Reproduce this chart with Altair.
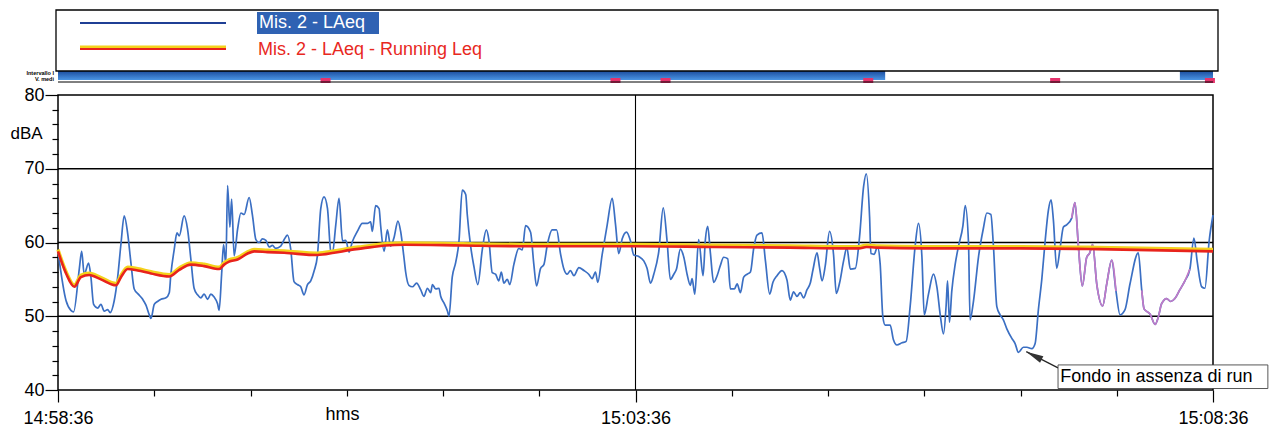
import altair as alt
import pandas as pd

# ---------------- data (seconds from 14:58:36, dBA) ----------------
laeq_points = [
    (0, 58.8), (4.2, 52.1), (6.7, 50.8), (8.1, 50.6), (11.1, 56.5), (12.3, 58.8), (13.6, 55.7), (15.9, 57.2),
    (17.1, 55.3), (18.5, 51.6), (20.6, 51.1), (22.3, 51.6), (24.0, 50.7), (25.8, 50.9), (27.1, 50.5), (29.2, 52.1),
    (31.0, 55.3), (32.7, 59.8), (34.4, 63.6), (36.2, 61.2), (37.9, 57.2), (39.6, 53.7), (41.7, 53.0), (44.0, 52.3),
    (45.7, 51.5), (47.4, 50.2), (48.3, 49.7), (50.0, 51.6), (51.7, 52.0), (53.5, 52.3), (56.1, 52.5), (57.8, 53.2),
    (58.6, 55.6), (60.4, 59.1), (61.8, 61.3), (63.0, 60.9), (65.5, 63.6), (67.3, 61.8), (69.0, 57.8), (70.7, 53.8),
    (72.5, 52.9), (74.2, 52.5), (75.9, 53.0), (77.7, 52.3), (79.4, 53.0), (81.1, 52.6), (82.9, 51.7), (83.7, 50.8),
    (85.0, 55.7), (86.0, 59.7), (87.2, 57.1), (88.1, 67.7), (89.3, 62.1), (90.2, 65.9), (91.5, 58.2), (93.3, 61.8),
    (95.0, 64.0), (96.7, 63.8), (99.3, 66.1), (101.0, 63.7), (102.8, 60.4), (104.5, 60.0), (106.2, 60.5), (108.0, 60.3),
    (109.7, 59.4), (111.4, 59.6), (113.1, 59.2), (115.7, 59.5), (117.5, 60.4), (119.2, 61.0), (120.9, 59.1), (122.6, 54.7),
    (124.4, 54.3), (126.1, 54.0), (127.8, 52.9), (129.6, 54.3), (131.3, 54.8), (133.0, 56.1), (134.8, 58.3), (136.5, 64.6),
    (138.2, 66.2), (140.0, 64.6), (141.7, 58.8), (142.6, 58.6), (144.3, 62.4), (146.0, 66.0), (147.8, 60.2), (149.5, 60.3),
    (151.2, 58.7), (152.9, 60.1), (155.5, 61.5), (158.1, 62.6), (160.7, 62.6), (162.4, 62.8), (163.3, 61.5), (165.0, 65.0),
    (166.8, 64.6), (167.6, 62.3), (169.4, 58.8), (171.1, 61.7), (172.8, 59.5), (174.5, 60.6), (176.6, 62.9), (178.0, 61.5),
    (179.7, 58.0), (180.6, 56.0), (182.3, 54.2), (184.1, 54.0), (186.3, 54.5), (188.4, 53.6), (190.1, 52.7), (191.9, 53.8),
    (193.6, 53.2), (194.5, 54.3), (196.2, 53.7), (197.9, 53.8), (198.8, 52.7), (200.5, 51.8), (202.3, 50.7), (203.1, 50.0),
    (204.8, 55.3), (206.6, 57.3), (208.3, 60.2), (210.0, 67.1), (211.8, 66.5), (212.6, 63.8), (214.3, 59.6), (216.1, 56.7),
    (218.1, 54.3), (220.4, 59.0), (222.5, 61.7), (223.8, 60.4), (225.6, 55.9), (227.3, 55.7), (229.0, 54.8), (230.3, 56.0),
    (231.6, 54.5), (233.4, 55.0), (234.7, 54.3), (236.8, 57.0), (239.4, 59.2), (241.2, 59.0), (242.9, 62.3), (245.5, 61.4),
    (247.2, 57.0), (248.6, 54.1), (250.7, 56.5), (252.4, 57.0), (254.2, 59.7), (256.7, 61.7), (259.0, 61.7), (261.1, 58.4),
    (262.8, 56.4), (264.5, 55.7), (266.2, 56.2), (268.0, 55.5), (270.6, 56.6), (273.2, 56.2), (275.7, 55.7), (277.5, 55.1),
    (279.2, 56.0), (280.4, 54.6), (282.7, 58.4), (285.3, 62.4), (287.9, 66.0), (289.6, 62.5), (291.3, 58.5), (293.1, 60.5),
    (295.3, 61.4), (297.4, 60.2), (299.1, 58.3), (301.7, 58.1), (304.3, 57.5), (306.0, 56.5), (307.8, 54.5), (309.5, 55.7),
    (312.1, 58.8), (314.4, 64.7), (316.4, 60.2), (318.1, 55.0), (319.9, 55.7), (321.3, 56.4), (323.3, 59.1), (325.1, 58.0),
    (326.8, 55.7), (328.5, 54.2), (329.4, 55.1), (330.8, 53.0), (332.8, 60.4), (335.1, 55.5), (336.3, 60.4), (337.5, 62.2),
    (338.9, 58.6), (340.6, 54.6), (342.4, 55.5), (344.1, 56.9), (345.8, 58.0), (347.9, 57.8), (349.3, 53.7), (351.4, 53.7),
    (352.8, 54.4), (354.5, 53.2), (356.2, 55.3), (358.0, 55.7), (359.7, 56.0), (361.4, 59.2), (363.1, 61.0), (365.7, 61.3),
    (367.5, 57.5), (369.7, 53.0), (371.4, 54.6), (373.5, 55.5), (376.1, 56.2), (378.7, 54.9), (380.4, 52.2), (382.1, 53.3),
    (383.9, 52.7), (385.6, 53.2), (387.3, 52.5), (389.1, 53.6), (390.8, 54.5), (392.2, 56.3), (394.3, 58.6), (395.6, 56.6),
    (396.9, 54.8), (398.6, 56.9), (400.8, 61.5), (402.9, 58.3), (404.3, 53.1), (406.0, 54.5), (408.1, 57.5), (409.8, 59.3),
    (411.6, 56.4), (414.2, 56.5), (416.4, 60.8), (418.5, 67.6), (419.9, 69.3), (421.6, 63.5), (422.3, 58.5), (424.0, 58.4),
    (425.7, 59.4), (427.1, 57.1), (428.5, 49.9), (429.7, 48.8), (432.3, 48.8), (434.0, 46.8), (435.8, 46.1), (438.4, 46.4),
    (440.6, 46.6), (442.7, 51.4), (445.3, 59.6), (447.0, 62.6), (448.8, 58.0), (450.0, 50.2), (452.2, 53.0), (454.8, 55.7),
    (456.6, 53.9), (458.3, 50.2), (460.0, 47.6), (461.4, 51.6), (462.1, 54.8), (463.1, 49.2), (464.3, 53.4), (466.1, 57.1),
    (467.8, 59.5), (470.1, 62.3), (471.3, 65.0), (473.0, 59.9), (473.8, 49.5), (475.6, 52.1), (478.2, 58.1), (480.7, 61.9),
    (482.5, 64.0), (484.6, 63.8), (485.9, 59.7), (487.7, 51.3), (489.4, 50.2), (491.1, 49.5), (492.9, 48.3), (495.5, 47.0),
    (497.2, 46.3), (498.9, 45.1), (501.5, 45.8), (503.3, 45.8), (505.9, 45.6), (507.6, 46.3), (509.3, 50.9), (511.1, 55.1),
    (512.8, 60.2), (514.5, 64.4), (515.9, 65.8), (517.1, 63.0), (518.8, 56.5), (520.6, 59.3), (522.3, 62.1), (524.0, 62.4),
    (526.6, 63.3), (528.3, 65.4), (530.1, 59.4), (532.1, 54.1), (534.4, 58.0), (535.8, 58.5), (537.5, 59.7), (539.6, 54.4),
    (542.7, 51.4), (544.8, 54.4), (547.4, 57.6), (549.6, 53.4), (551.7, 50.2), (554.3, 50.9), (556.9, 54.4), (561.2, 58.6),
    (563.0, 53.5), (564.2, 51.0), (567.3, 50.3), (569.9, 48.9), (571.6, 49.9), (573.3, 51.7), (575.9, 52.4), (578.0, 52.0),
    (580.2, 52.4), (582.8, 53.6), (585.4, 54.8), (588.0, 56.4), (590.1, 60.6), (591.8, 57.4), (594.1, 54.0), (595.8, 53.8),
    (598.0, 60.2), (600.0, 63.7),
]

running_points = [
    (0, 58.8), (4.2, 55.8), (8.5, 54.0), (11.9, 55.3), (16.2, 55.6), (22.3, 55.0), (30.1, 54.2), (32.7, 55.3),
    (36.2, 56.4), (41.4, 56.2), (48.3, 55.8), (57.8, 55.4), (63.0, 56.3), (69.0, 57.0), (75.9, 56.8), (83.7, 56.4),
    (86.3, 57.0), (88.9, 57.4), (93.3, 57.7), (98.5, 58.5), (101.9, 58.8), (108.8, 58.7), (117.5, 58.6), (134.8, 58.3),
    (143.4, 58.6), (152.1, 59.0), (158.0, 59.2), (170.0, 59.6), (180.0, 59.7), (210.0, 59.6), (240.0, 59.5), (270.0, 59.5),
    (300.0, 59.5), (340.0, 59.4), (380.0, 59.3), (410.0, 59.2), (416.0, 59.2), (420.0, 59.4), (425.0, 59.3), (450.0, 59.2),
    (500.0, 59.2), (540.0, 59.1), (600.0, 58.8),
]

pink_ranges = [(525, 550), (563, 588)]          # segments printed in magenta
series_names = ["Mis. 2 - LAeq", "Mis. 2 - LAeq - Running Leq"]
x_ticks = list(range(0, 601, 50))
time_labels = {0: "14:58:36", 300: "15:03:36", 600: "15:08:36"}
y_ticks = list(range(40, 81, 2))
grid_levels = [50, 60, 70]
vertical_lines = [300]
interval_on = [(0, 429.7), (582.8, 600)]
interval_marks = [139, 289.6, 315.6, 420.9, 518, 598.4]
annotation_text = "Fondo in assenza di run"
annotation_tip = (503, 45.2)
annotation_anchor = (519.5, 43.0)
annotation_box = (519.5, 628.5, 40.2, 43.4)

FONT = "Liberation Sans"
W, H = 1155, 295

laeq_df = pd.DataFrame(laeq_points, columns=["t", "v"])
run_df = pd.DataFrame(running_points, columns=["t", "v"])

pink_rows = []
for i, (a, b) in enumerate(pink_ranges):
    for t, v in laeq_points:
        if a <= t <= b:
            pink_rows.append({"t": t, "v": v, "seg": i})
pink_df = pd.DataFrame(pink_rows)

xscale = alt.Scale(domain=[0, 600], nice=False, zero=False)
yscale = alt.Scale(domain=[40, 80], nice=False, zero=False)

label_expr = " : ".join(
    f"datum.value == {k} ? '{v}'" for k, v in time_labels.items()
) + " : ''"

x_axis = alt.Axis(
    values=x_ticks, labelExpr=label_expr, domain=False, grid=False,
    tickColor="black", tickWidth=1.2,
    tickSize=alt.condition("datum.value % 300 == 0", alt.value(12), alt.value(6)),
    labelFont=FONT, labelFontSize=18, labelColor="black", labelPadding=7,
    labelOverlap=False, labelFlush=False,
    title="hms", titleFont=FONT, titleFontSize=18, titleFontWeight="normal", titleColor="black",
    titleX=284, titleY=24, titleAlign="center", titleBaseline="middle",
)
y_axis = alt.Axis(
    values=y_ticks, labelExpr="datum.value % 10 == 0 ? datum.label : ''", domain=False, grid=False,
    tickColor="black", tickWidth=1.2,
    tickSize=alt.condition("datum.value % 10 == 0", alt.value(13), alt.value(6)),
    labelFont=FONT, labelFontSize=18, labelColor="black", labelPadding=1,
    labelOverlap=False, labelFlush=False,
    title="dBA", titleAngle=0, titleFont=FONT, titleFontSize=17, titleFontWeight="normal",
    titleColor="black", titleX=-32, titleY=38, titleAlign="center", titleBaseline="middle",
)


def X(field):
    return alt.X(field, scale=xscale, axis=x_axis)


def Y(field):
    return alt.Y(field, scale=yscale, axis=y_axis)


# grid lines
grid = alt.Chart(pd.DataFrame({"g": grid_levels})).mark_rule(color="black", strokeWidth=1.4).encode(
    y=Y("g:Q")
)
vgrid = alt.Chart(pd.DataFrame({"vt": vertical_lines})).mark_rule(color="black", strokeWidth=1.1).encode(
    x=X("vt:Q")
)

blue = alt.Chart(laeq_df).mark_line(color="#3b6fc3", strokeWidth=1.7, interpolate="monotone").encode(
    x=X("t:Q"), y=Y("v:Q"),
)
pink = alt.Chart(pink_df).mark_line(color="#c27ac6", strokeWidth=1.7, interpolate="monotone").encode(
    x=X("t:Q"), y=Y("v:Q"), detail="seg:N",
)
yellow = alt.Chart(run_df).mark_line(color="#f4d21c", strokeWidth=3.4, yOffset=-1.8, interpolate="monotone").encode(
    x=X("t:Q"), y=Y("v:Q"),
)
red = alt.Chart(run_df).mark_line(color="#e8231c", strokeWidth=2.6, interpolate="monotone").encode(
    x=X("t:Q"), y=Y("v:Q"),
)

# annotation
box_df = pd.DataFrame([{"x1": annotation_box[0], "x2": annotation_box[1],
                        "y1": annotation_box[2], "y2": annotation_box[3]}])
ann_box = alt.Chart(box_df).mark_rect(fill="white", stroke="#444", strokeWidth=0.9).encode(
    x=X("x1:Q"), x2="x2:Q", y=Y("y1:Q"), y2="y2:Q",
)
ann_text = alt.Chart(pd.DataFrame([{"x1": annotation_box[0] + 1.2,
                                    "y1": (annotation_box[2] + annotation_box[3]) / 2,
                                    "s": annotation_text}])).mark_text(
    align="left", baseline="middle", font=FONT, fontSize=18, color="black"
).encode(x=X("x1:Q"), y=Y("y1:Q"), text="s:N")
lead_df = pd.DataFrame([{"x1": annotation_tip[0], "y1": annotation_tip[1],
                         "x2": annotation_anchor[0], "y2": annotation_anchor[1]}])
ann_line = alt.Chart(lead_df).mark_rule(color="#222", strokeWidth=1.2).encode(
    x=X("x1:Q"), x2="x2:Q", y=Y("y1:Q"), y2="y2:Q",
)
ann_head = alt.Chart(pd.DataFrame([{"x1": annotation_tip[0], "y1": annotation_tip[1]}])).mark_point(
    shape="M0,0L0.42,2L-0.42,2Z", filled=True, size=300, angle=297, color="#333", opacity=1
).encode(x=X("x1:Q"), y=Y("y1:Q"))

# interval strip above the plot
on_df = pd.DataFrame(interval_on, columns=["a", "b"])
grad = alt.LinearGradient(gradient="linear", x1=0, x2=0, y1=0, y2=1,
                          stops=[alt.GradientStop(color="#1b4c9e", offset=0),
                                 alt.GradientStop(color="#4b95e4", offset=1)])
strip = alt.Chart(on_df).mark_rect(color=grad).encode(
    x=X("a:Q"), x2="b:Q", y=alt.value(-24), y2=alt.value(-15),
)
marks_df = pd.DataFrame({"m": interval_marks})
strip_marks = alt.Chart(marks_df).transform_calculate(
    m1="datum.m - 2.6", m2="datum.m + 2.6"
).mark_rect(color="#e5336c").encode(
    x=X("m1:Q"), x2="m2:Q", y=alt.value(-17), y2=alt.value(-12),
)
one = pd.DataFrame({"k": [0]})
strip_line = alt.Chart(one).mark_rule(color="black", strokeWidth=1).encode(
    x=alt.value(0), x2=alt.value(W), y=alt.value(-13)
)
strip_lbl1 = alt.Chart(pd.DataFrame({"s": ["Intervallo I"]})).mark_text(
    align="right", baseline="middle", font=FONT, fontSize=5.5, fontWeight="bold", color="black"
).encode(x=alt.value(-4), y=alt.value(-22), text="s:N")
strip_lbl2 = alt.Chart(pd.DataFrame({"s": ["V. medi"]})).mark_text(
    align="right", baseline="middle", font=FONT, fontSize=5.5, fontWeight="bold", color="black"
).encode(x=alt.value(-4), y=alt.value(-16), text="s:N")

# legend box
legend_box = alt.Chart(one).mark_rect(fill=None, stroke="black", strokeWidth=1.3).encode(
    x=alt.value(-2), x2=alt.value(W + 5), y=alt.value(-85), y2=alt.value(-24)
)
leg_line1 = alt.Chart(one).mark_rule(color="#1f3f95", strokeWidth=2).encode(
    x=alt.value(22), x2=alt.value(168), y=alt.value(-72)
)
leg_line2y = alt.Chart(one).mark_rule(color="#f4d21c", strokeWidth=3).encode(
    x=alt.value(22), x2=alt.value(168), y=alt.value(-48)
)
leg_line2r = alt.Chart(one).mark_rule(color="#e8231c", strokeWidth=2).encode(
    x=alt.value(22), x2=alt.value(168), y=alt.value(-46)
)
leg_hl = alt.Chart(one).mark_rect(color="#2f62b3").encode(
    x=alt.value(199), x2=alt.value(321), y=alt.value(-83), y2=alt.value(-61)
)
leg_t1 = alt.Chart(pd.DataFrame({"s": [series_names[0]]})).mark_text(
    align="left", baseline="middle", font=FONT, fontSize=18, color="white"
).encode(x=alt.value(201), y=alt.value(-72), text="s:N")
leg_t2 = alt.Chart(pd.DataFrame({"s": [series_names[1]]})).mark_text(
    align="left", baseline="middle", font=FONT, fontSize=18, color="#e8281e"
).encode(x=alt.value(200), y=alt.value(-45), text="s:N")

chart = alt.layer(
    grid, vgrid, blue, pink, yellow, red,
    ann_line, ann_box, ann_text, ann_head,
    strip, strip_marks, strip_line, strip_lbl1, strip_lbl2,
    legend_box, leg_line1, leg_line2y, leg_line2r, leg_hl, leg_t1, leg_t2,
).properties(
    width=W, height=H,
    padding={"left": 58, "top": 95, "right": 71, "bottom": 54},
    autosize=alt.AutoSizeParams(type="none"),
    background="white",
).configure_view(stroke="black", strokeWidth=1.5)

chart.save("out.html", embed_options={"renderer": "svg", "actions": False})
